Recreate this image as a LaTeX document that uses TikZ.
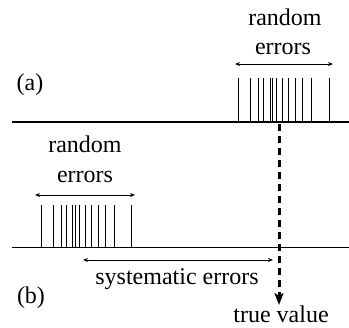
\documentclass[tikz,border=0pt]{standalone}
\usepackage{fontspec}
\setmainfont{Liberation Serif}
\newfontfamily\reffont{Liberation Serif}
\usetikzlibrary{arrows.meta}
\begin{document}
\begin{tikzpicture}[x=1pt,y=-1pt,
  txt/.style={inner sep=0pt,anchor=base,font=\reffont\fontsize{24}{29}\selectfont},
  axisline/.style={line width=1.3pt},
  tickline/.style={line width=1pt},
  span/.style={line width=0.9pt,{Stealth[length=5pt,width=4pt]}-{Stealth[length=5pt,width=4pt]}},
  trueline/.style={line width=3pt,dash pattern=on 7pt off 5pt,-{Stealth[length=12pt,width=9pt,inset=3pt]}}]
\useasboundingbox (0,0) rectangle (349,328);
% axes
\coordinate (a0) at (12,122); \coordinate (a1) at (349,122);
\coordinate (b0) at (12,247.5); \coordinate (b1) at (349,247.5);
\draw[axisline] (a0) -- (a1);
\draw[axisline] (b0) -- (b1);
% ticks
\foreach \d in {0,12.4,20,25,31.7,34,38.4,44,50,57.4,64,73.4,90.7}{
  \draw[tickline] (238.3+\d,78) -- (238.3+\d,122);
  \draw[tickline] (41+\d,205) -- (41+\d,247.5);
}
% random error spans
\coordinate (ra0) at (235,64); \coordinate (ra1) at (333,64);
\coordinate (rb0) at (35,195); \coordinate (rb1) at (135,195);
\draw[span] (ra0) -- (ra1);
\draw[span] (rb0) -- (rb1);
% systematic span
\coordinate (s0) at (83,260); \coordinate (s1) at (273,260);
\draw[span] (s0) -- (s1);
% true value
\coordinate (t0) at (279,124); \coordinate (t1) at (279,305);
\draw[trueline] (t0) -- (t1);
% texts
\node[txt] (ra) at (285,26) {random};
\node[txt] (ea) at (283,55) {errors};
\node[txt] (rb) at (85,153) {random};
\node[txt] (eb) at (85,183) {errors};
\node[txt] (la) at (30,91) {(a)};
\node[txt] (lb) at (31,304) {(b)};
\node[txt] (se) at (177,285) {systematic errors};
\node[txt] (tv) at (281,323) {true value};
\end{tikzpicture}
\end{document}
